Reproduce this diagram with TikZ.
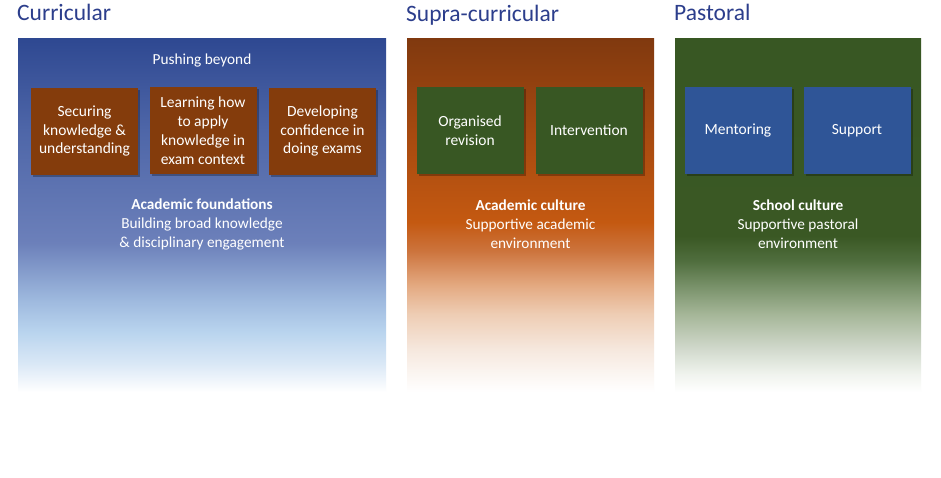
\documentclass[tikz,border=0pt]{standalone}
\usepackage{fontspec}
\setmainfont{Carlito}
\usetikzlibrary{shadows}
\definecolor{hdr}{RGB}{44,62,140}
\definecolor{brownbox}{RGB}{132,60,12}
\definecolor{greenbox}{RGB}{56,87,35}
\definecolor{bluebox}{RGB}{47,85,151}
% blue panel stops
\definecolor{bA}{RGB}{46,72,145}
\definecolor{bB}{RGB}{78,102,168}
\definecolor{bC}{RGB}{108,128,186}
\definecolor{bD}{RGB}{158,185,222}
\definecolor{bE}{RGB}{185,212,238}
\definecolor{bF}{RGB}{218,232,246}
% orange panel stops
\definecolor{oA}{RGB}{128,57,15}
\definecolor{oB}{RGB}{165,73,16}
\definecolor{oC}{RGB}{196,89,17}
\definecolor{oD}{RGB}{204,115,60}
\definecolor{oE}{RGB}{228,170,130}
\definecolor{oF}{RGB}{238,205,180}
\definecolor{oG}{RGB}{246,232,222}
\definecolor{oH}{RGB}{251,246,242}
% green panel stops
\definecolor{gA}{RGB}{56,87,35}
\definecolor{gB}{RGB}{58,88,36}
\definecolor{gC}{RGB}{80,110,62}
\definecolor{gD}{RGB}{120,145,105}
\definecolor{gE}{RGB}{165,182,152}
\definecolor{gF}{RGB}{210,218,205}
\definecolor{gG}{RGB}{240,243,238}
\pgfdeclareverticalshading{blueshade}{100bp}{color(0bp)=(white); color(25bp)=(white); color(29bp)=(bF); color(33.5bp)=(bE); color(38bp)=(bD); color(46bp)=(bC); color(62bp)=(bB); color(75bp)=(bA); color(100bp)=(bA)}
\pgfdeclareverticalshading{orangeshade}{100bp}{color(0bp)=(white); color(25bp)=(white); color(27.5bp)=(oH); color(31bp)=(oG); color(36bp)=(oF); color(40bp)=(oE); color(45bp)=(oD); color(49bp)=(oC); color(62bp)=(oB); color(75bp)=(oA); color(100bp)=(oA)}
\pgfdeclareverticalshading{greenshade}{100bp}{color(0bp)=(white); color(25bp)=(white); color(27.5bp)=(gG); color(31bp)=(gF); color(36bp)=(gE); color(40bp)=(gD); color(43.5bp)=(gC); color(47bp)=(gB); color(75bp)=(gA); color(100bp)=(gA)}
\tikzset{
  paneltitle/.style={anchor=base west, inner sep=0pt, text=hdr, font=\fontsize{23.5}{27}\selectfont},
  paneltxt/.style={inner sep=0pt, text=white, align=center, font=\fontsize{15.3}{19}\selectfont},
  itembox/.style={minimum width=107pt, minimum height=87pt, inner sep=0pt, text=white, align=center,
    font=\fontsize{15.5}{18.8}\selectfont,
    drop shadow={shadow xshift=2pt, shadow yshift=-2pt, opacity=0.28, fill=black}},
  brownitem/.style={itembox, fill=brownbox},
  greenitem/.style={itembox, fill=greenbox},
  blueitem/.style={itembox, fill=bluebox}
}
\begin{document}
\begin{tikzpicture}[x=1pt,y=-1pt]
\useasboundingbox[fill=white] (0,0) rectangle (941,477);
% panels
\path[shading=blueshade] (18,38) rectangle (386,392);
\path[shading=orangeshade] (407,38) rectangle (654,392);
\path[shading=greenshade] (675,38) rectangle (921,392);
% titles
\node[paneltitle] (t1) at (17,20) {Curricular};
\node[paneltitle] (t2) at (406,21) {Supra-curricular};
\node[paneltitle] (t3) at (674,20) {Pastoral};
% curricular
\node[paneltxt] (push) at (202,60) {Pushing beyond};
\node[brownitem] (c1) at (84.5,131) {Securing\\knowledge \&\\understanding};
\node[brownitem] (c2) at (203,130.5) {Learning how\\to apply\\knowledge in\\exam context};
\node[brownitem] (c3) at (322.5,131) {Developing\\confidence in\\doing exams};
\node[paneltxt] (cf) at (202,224) {\textbf{Academic foundations}\\Building broad knowledge\\\& disciplinary engagement};
% supra-curricular
\node[greenitem] (s1) at (470,130.5) {Organised\\revision};
\node[greenitem] (s2) at (589,130.5) {Intervention};
\node[paneltxt] (sf) at (530.5,224) {\textbf{Academic culture}\\Supportive academic\\environment};
% pastoral
\node[blueitem] (p1) at (738,130.5) {Mentoring};
\node[blueitem] (p2) at (857,130.5) {Support};
\node[paneltxt] (pf) at (798,224) {\textbf{School culture}\\Supportive pastoral\\environment};
\end{tikzpicture}
\end{document}
